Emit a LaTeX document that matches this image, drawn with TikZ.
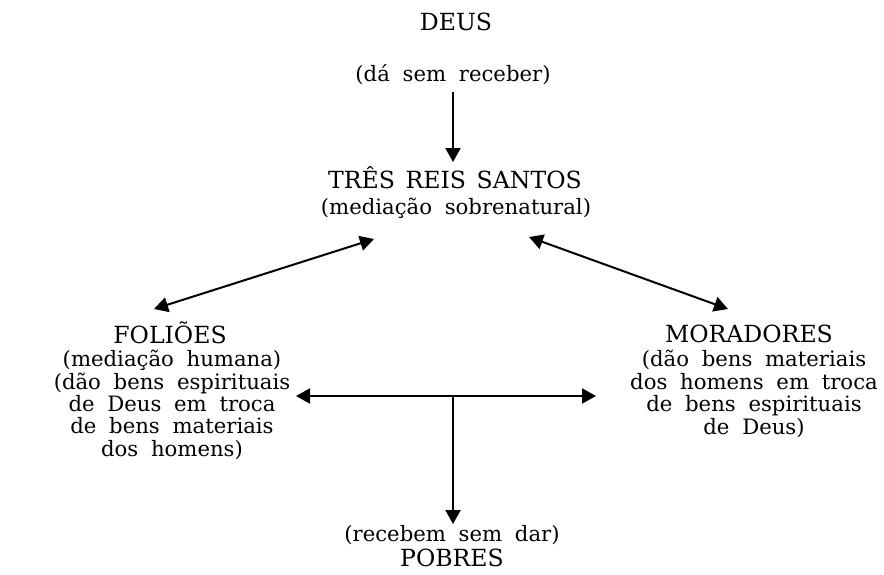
\documentclass[tikz,border=0pt]{standalone}
\usepackage{fontspec}
\setmainfont{DejaVu Serif}
\usetikzlibrary{arrows.meta}
\newcommand\fonterotulo{\fontsize{10.6}{11.2}\selectfont\spaceskip=0.6em plus 0.1em\relax}
\newcommand\fontenome{\fontsize{11.8}{13}\selectfont\spaceskip=0.45em plus 0.1em\relax}

\begin{document}
\begin{tikzpicture}[x=0.5pt,y=-0.5pt,
	rotulo/.style={font=\fonterotulo,align=center,inner sep=0pt},
	nome/.style={font=\fontenome,align=center,inner sep=0pt},
	seta/.style={line width=1pt,-{Triangle[length=7pt,width=7.5pt]}},
	setas/.style={line width=1pt,{Triangle[length=7pt,width=7.5pt]}-{Triangle[length=7pt,width=7.5pt]}}]
		\useasboundingbox (0,0) rectangle (884,574);
		\node [nome] (deus) at (456,22) {DEUS};
		\node [rotulo] (deusdesc) at (453,75) {(dá sem receber)};
		\node [nome] (reis) at (455,178) {TRÊS REIS SANTOS};
		\node [rotulo] (reisdesc) at (456,208) {(mediação sobrenatural)};
		\node [nome] (folioes) at (170,333) {FOLIÕES};
		\node [rotulo] (folioesdesc) at (172,405) {(mediação humana)\\(dão bens espirituais\\de Deus em troca\\de bens materiais\\dos homens)};
		\node [nome] (moradores) at (749,334) {MORADORES};
		\node [rotulo] (moradoresdesc) at (754,394) {(dão bens materiais\\dos homens em troca\\de bens espirituais\\de Deus)};
		\node [rotulo] (pobresdesc) at (452,535) {(recebem sem dar)};
		\node [nome] (pobres) at (452,558) {POBRES};
		\coordinate (va) at (453,92); % sob Deus
		\coordinate (vb) at (453,162);
		\coordinate (ta) at (374,239);
		\coordinate (tb) at (154,309);
		\coordinate (tc) at (529,237);
		\coordinate (td) at (728,309);
		\coordinate (ha) at (296,396);
		\coordinate (hb) at (596,396);
		\coordinate (hm) at (453,396);
		\coordinate (vc) at (453,524);
		\draw [seta] (va) to (vb);
		\draw [setas] (tb) to (ta);
		\draw [setas] (tc) to (td);
		\draw [setas] (ha) to (hb); % troca
		\draw [seta] (hm) to (vc);
		\end{tikzpicture}
\end{document}
